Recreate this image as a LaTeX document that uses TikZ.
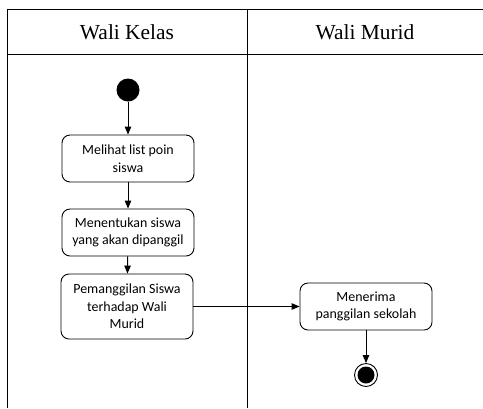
\documentclass[tikz,border=0pt]{standalone}
\usepackage{fontspec}
\setmainfont{Liberation Serif}
\newfontfamily\boxfont{Carlito}
\usetikzlibrary{arrows.meta}
\begin{document}
\begin{tikzpicture}[x=1bp,y=-1bp,
  lane/.style={line width=1bp},
  header/.style={font=\fontsize{21.5}{24}\selectfont},
  action/.style={draw, line width=0.9bp, rounded corners=8bp, minimum width=132bp,
    align=center, inner sep=2bp, font=\boxfont\fontsize{14}{17.5}\selectfont},
  flow/.style={line width=0.9bp, -{Triangle[length=8bp,width=6.5bp]}}]
\useasboundingbox (0,0) rectangle (483,408);
% swimlane frame
\draw[lane] (7,408) -- (7,9) -- (484,9);
\draw[lane] (7,54) -- (484,54);
\draw[lane] (247,9) -- (247,408);
\node[header] (hk) at (127,32) {Wali Kelas};
\node[header] (hm) at (365,32) {Wali Murid};
% activities
\node[circle, fill=black, minimum size=23bp, inner sep=0] (start) at (128,90) {};
\node[action, minimum height=47bp] (a1) at (128,158.5) {Melihat list poin\\siswa};
\node[action, minimum height=47bp] (a2) at (128,232.5) {Menentukan siswa\\yang akan dipanggil};
\node[action, minimum height=65bp] (a3) at (127,306.5) {Pemanggilan Siswa\\terhadap Wali\\Murid};
\node[action, minimum height=47bp] (a4) at (366,306.5) {Menerima\\panggilan sekolah};
\node[circle, draw, line width=0.9bp, minimum size=23bp, inner sep=0] (end) at (366,375) {};
\fill (end.center) circle (8.5bp);
% transitions
\draw[flow] (start) -- (a1);
\draw[flow] (a1) -- (a2);
\draw[flow] (a2) -- (a3);
\draw[flow] (a3) -- (a4);
\draw[flow] (a4) -- (end);
\end{tikzpicture}
\end{document}
